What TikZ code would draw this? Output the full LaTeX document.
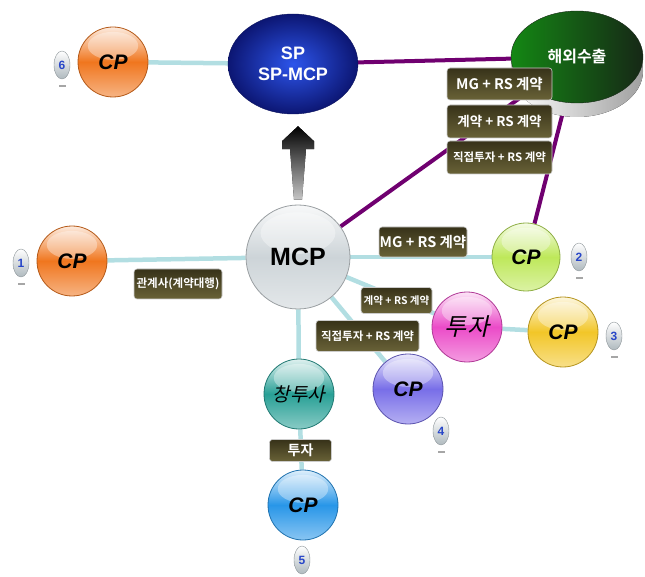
\documentclass[tikz,border=0pt]{standalone}
\usepackage{fontspec}
\setmainfont{Liberation Sans}
\newfontfamily\kr[BoldFont={Noto Sans CJK KR Bold}]{Noto Sans CJK KR}
\newfontfamily\krsl[FakeSlant=0.22]{Noto Sans CJK KR}
\usetikzlibrary{shapes.geometric, calc, backgrounds}
\definecolor{spin}{RGB}{45,85,235}
\definecolor{spout}{RGB}{12,22,115}
\definecolor{expl}{RGB}{20,135,20}
\definecolor{expr}{RGB}{22,40,22}
\definecolor{mcpgray}{RGB}{205,212,216}
\definecolor{cporange}{RGB}{240,118,30}
\definecolor{cpgreen}{RGB}{190,232,90}
\definecolor{cpyellow}{RGB}{242,198,40}
\definecolor{cpviolet}{RGB}{120,110,232}
\definecolor{cpblue}{RGB}{40,150,232}
\definecolor{tujapink}{RGB}{235,75,200}
\definecolor{ctsateal}{RGB}{40,160,150}
\definecolor{linkblue}{RGB}{178,222,226}
\definecolor{dealpurple}{RGB}{112,0,112}
\definecolor{tagtop}{RGB}{55,50,25}
\definecolor{tagbot}{RGB}{105,98,55}
\definecolor{badgegray}{RGB}{175,185,190}
\definecolor{badgeblue}{RGB}{40,70,200}
\tikzset{
  ball/.style={circle, draw=#1!75!black, line width=0.8pt,
    top color=#1!15!white, bottom color=#1!55!white, middle color=#1,
    minimum size=70pt, inner sep=0pt,
    font=\bfseries\itshape\fontsize{21}{21}\selectfont,
    path picture={\fill[white, opacity=0.35]
      let \p1=(path picture bounding box.north),
          \p2=(path picture bounding box.south),
          \n1={veclen(\x2-\x1,\y2-\y1)} in
      ($(\p1)!0.27!(\p2)$) ellipse [x radius=0.36*\n1, y radius=0.2*\n1];}},
  tag/.style={rectangle, rounded corners=3pt, draw=white!80!black,
    line width=0.6pt, top color=tagtop, bottom color=tagbot,
    text=white, inner sep=0pt, font=\kr\bfseries\fontsize{11}{11}\selectfont},
  badge/.style={ellipse, minimum width=16pt, minimum height=28pt,
    inner sep=0pt, top color=white, bottom color=badgegray,
    draw=badgegray!80!black, line width=0.4pt, text=badgeblue,
    font=\bfseries\fontsize{12}{12}\selectfont},
  link/.style={line width=4.5pt, color=linkblue},
  deal/.style={line width=4pt, color=dealpurple}
}
\begin{document}
\begin{tikzpicture}[x=1pt, y=-1pt]
  \useasboundingbox (0,0) rectangle (645,577);

  % main nodes
  \node[ellipse, minimum width=130pt, minimum height=100pt,
    inner color=spin, outer color=spout, draw=spout!80!black,
    text=white, align=center, font=\bfseries\fontsize{18}{21}\selectfont]
    (sp) at (293,64) {SP\\SP-MCP};
  \node[ellipse, minimum width=132pt, minimum height=92pt,
    left color=expl, right color=expr, draw=expr,
    text=white, font=\kr\bfseries\fontsize{16}{16}\selectfont]
    (exp) at (577,57) {해외수출};
  \node[ball=mcpgray, minimum size=104pt, font=\bfseries\fontsize{25}{25}\selectfont]
    (mcp) at (298,257) {MCP};

  % CP balls
  \node[ball=cporange] (cp1) at (72,261) {CP};
  \node[ball=cpgreen, minimum size=68pt] (cp2) at (526,257) {CP};
  \node[ball=cpyellow] (cp3) at (563,332) {CP};
  \node[ball=cpviolet] (cp4) at (408,389) {CP};
  \node[ball=cpblue] (cp5) at (303,505) {CP};
  \node[ball=cporange] (cp6) at (113,62) {CP};
  \node[ball=tujapink, font=\krsl\fontsize{24}{24}\selectfont] (tuja) at (467,327) {투자};
  \node[ball=ctsateal, font=\krsl\fontsize{19}{19}\selectfont] (ctsa) at (299,394) {창투사};

  % numbers
  \node[badge] (b1) at (21,263) {1};
  \node[badge] (b2) at (579,257) {2};
  \node[badge] (b3) at (614,336) {3};
  \node[badge] (b4) at (441,431) {4};
  \node[badge] (b5) at (302,560) {5};
  \node[badge] (b6) at (62,65) {6};
  \foreach \b in {b1,b2,b3,b4,b6}
    \fill[gray!70] ($(\b.south)+(-3.5pt,-6pt)$) rectangle ++(7pt,-1.5pt);

  % connectors
  \begin{scope}[on background layer]
    \draw[link] (cp6) -- (sp);
    \draw[link] (cp1) -- (mcp);
    \draw[link] (mcp) -- (cp2);
    \draw[link] (mcp) -- (tuja);
    \draw[link] (tuja) -- (cp3);
    \draw[link] (mcp) -- (cp4);
    \draw[link] (mcp) -- (ctsa);
    \draw[link] (ctsa) -- (cp5);
    \draw[deal] (sp) -- (exp);
    \draw[deal] (mcp) -- (exp);
    \draw[deal] (exp) -- (cp2);
    \fill[left color=white, right color=gray!75] ($(exp.center)+(0,-14pt)$)
      ellipse [x radius=66pt, y radius=46pt];
  \end{scope}

  % big arrow MCP -> SP
  \coordinate (atip) at ($(mcp.north |- sp.south)+(0,-12pt)$);
  \coordinate (abase) at ($(mcp.north)+(0,5pt)$);
  \fill[top color=black, bottom color=gray!45] (atip) -- ++(16pt,-15pt)
    -- ++(0,-8pt) -- ++(-8pt,0) -- ($(abase)+(4pt,0)$) -- ($(abase)+(-4pt,0)$)
    -- ($(atip)+(-8pt,-23pt)$) -- ++(-8pt,0) -- ++(0,8pt) -- cycle;

  % contract labels
  \node[tag, minimum width=105pt, minimum height=32pt,
    font=\kr\bfseries\fontsize{14.5}{14.5}\selectfont] (t1) at (499.5,84) {MG + RS 계약};
  \node[tag, minimum width=105pt, minimum height=33pt,
    font=\kr\bfseries\fontsize{13.5}{13.5}\selectfont] (t2) at (499.5,121.5) {계약 + RS 계약};
  \node[tag, minimum width=105pt, minimum height=33pt,
    font=\kr\bfseries\fontsize{11.5}{11.5}\selectfont] (t3) at (499.5,157.5) {직접투자 + RS 계약};
  \node[tag, minimum width=88pt, minimum height=30pt,
    font=\kr\bfseries\fontsize{11.5}{11.5}\selectfont] (t4) at (178,284) {관계사(계약대행)};
  \node[tag, minimum width=88pt, minimum height=30pt,
    font=\kr\bfseries\fontsize{14.5}{14.5}\selectfont] (t5) at (423,242) {MG + RS 계약};
  \node[tag, minimum width=71pt, minimum height=26pt,
    font=\kr\bfseries\fontsize{10.5}{10.5}\selectfont] (t6) at (396.5,300.5) {계약 + RS 계약};
  \node[tag, minimum width=103pt, minimum height=31pt,
    font=\kr\bfseries\fontsize{11.5}{11.5}\selectfont] (t7) at (367.5,336) {직접투자 + RS 계약};
  \node[tag, minimum width=62pt, minimum height=22pt,
    font=\kr\bfseries\fontsize{14}{14}\selectfont] (t8) at (300.5,450.5) {투자};
\end{tikzpicture}
\end{document}
